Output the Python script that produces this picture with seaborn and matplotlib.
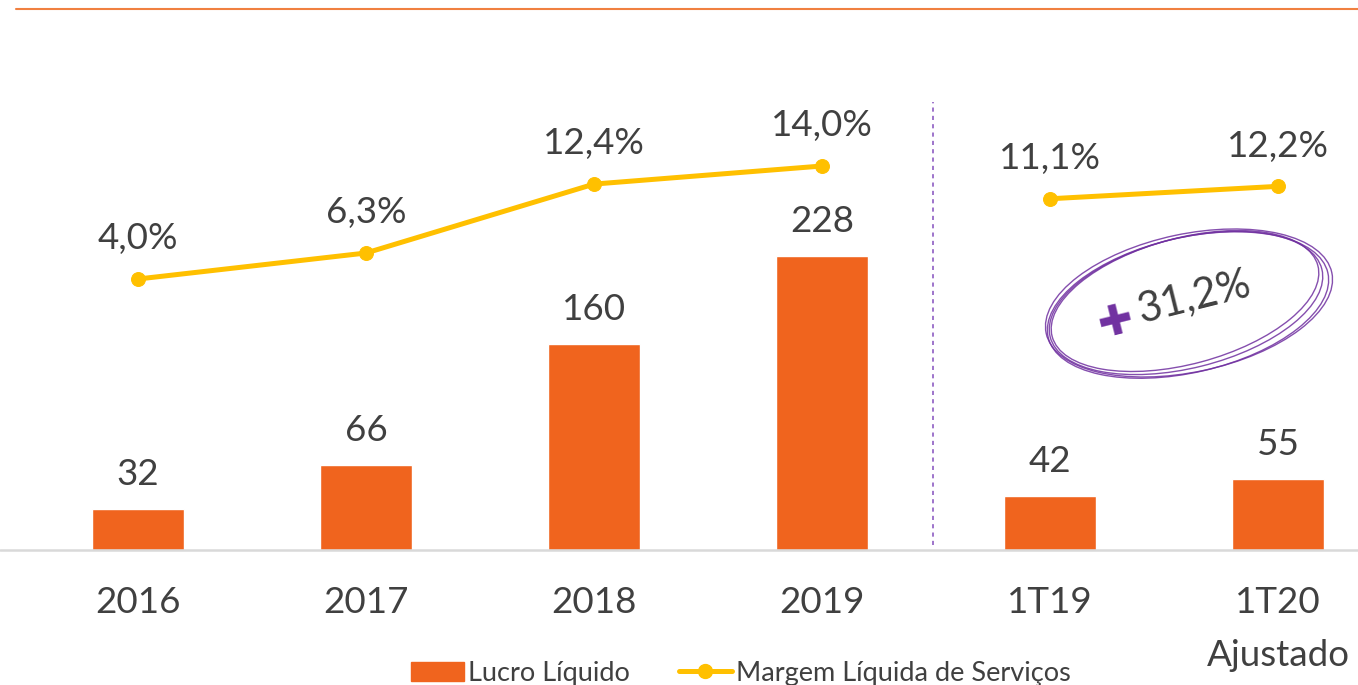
import numpy as np
import pandas as pd
import seaborn as sns
import matplotlib.pyplot as plt
from matplotlib.patches import Ellipse
from matplotlib.lines import Line2D
from matplotlib.patches import Patch

# dados
periodos = ["2016", "2017", "2018", "2019", "1T19", "1T20"]
rotulos_x = ["2016", "2017", "2018", "2019", "1T19", "1T20\nAjustado"]
lucro = [32, 66, 160, 228, 42, 55]
margem = [4.0, 6.3, 12.4, 14.0, 11.1, 12.2]
grupo = ["anual", "anual", "anual", "anual", "trim", "trim"]
destaque = "31,2%"

LARANJA = "#F0641E"
AMARELO = "#FFC000"
ROXO = "#7030A0"
CINZA_TXT = "#404040"

df = pd.DataFrame({"periodo": periodos, "lucro": lucro, "margem": margem, "grupo": grupo})
df["pos"] = np.arange(len(df))

sns.set_theme(style="white")
plt.rcParams["font.family"] = ["Lato", "DejaVu Sans"]

fig = plt.figure(figsize=(13.58, 6.85), dpi=100)
ax = fig.add_axes([0, 135 / 685, 1, 550 / 685])

sns.barplot(data=df, x="periodo", y="lucro", color=LARANJA, width=0.40,
            saturation=1, ax=ax)
ax.set_xlim(-138 / 228, (1358 - 138) / 228)
ax.set_ylim(0, 550 / 1.29)

for i, v in enumerate(lucro):
    ax.annotate(str(v), (i, v), xytext=(0, 13), textcoords="offset points",
                ha="center", va="bottom", fontsize=26.5, color=CINZA_TXT)

ax2 = ax.twinx()
sns.lineplot(data=df, x="pos", y="margem", units="grupo", estimator=None,
             color=AMARELO, lw=3.6, marker="o", markersize=10,
             markeredgecolor=AMARELO, ax=ax2)
ax2.set_ylim((324.2 - 550) / 11.3, 324.2 / 11.3)
ax2.set_xlim(ax.get_xlim())
for i, v in enumerate(margem):
    ax2.annotate(f"{v:.1f}%".replace(".", ","), (i, v), xytext=(0, 17),
                 textcoords="offset points", ha="center", va="bottom",
                 fontsize=26.5, color=CINZA_TXT)

for a in (ax, ax2):
    a.set_ylabel("")
    a.set_yticks([])
    for s in a.spines.values():
        s.set_visible(False)
ax2.set_xlabel("")
ax.set_xlabel("")
ax.axhline(0, color="#D9D9D9", lw=1.8, clip_on=False)
ax.set_xticks(range(len(rotulos_x)))
ax.set_xticklabels(rotulos_x, fontsize=26.5, color=CINZA_TXT, linespacing=1.75)
ax.tick_params(axis="x", length=0, pad=26)

# divisor tracejado entre anos e trimestres
ax.plot([(933 - 138) / 228] * 2, [5 / 1.29, 448 / 1.29], ls=(0, (2.5, 2.5)),
        color="#8E5CC2", lw=1.2)

# linha laranja no topo
fig.add_artist(Line2D([16 / 1358, 1], [1 - 9 / 685] * 2, color="#F08040", lw=1.5))

# anotação circulada
tr = fig.dpi_scale_trans
for dw, dh, da, dx, dy in [(0, 0, 14, 0, 0), (0.07, 0.05, 13, 0.02, -0.02),
                           (-0.05, -0.04, 15, -0.01, 0.02), (0.12, 0.08, 12, 0.03, 0.0)]:
    fig.add_artist(Ellipse((11.86 + dx, 3.82 + dy), 2.8 + dw, 1.3 + dh, angle=da,
                           fill=False, ec=ROXO, lw=1.0, alpha=0.85, transform=tr))
fig.text(1194 / 1358, 1 - 297 / 685, destaque, fontsize=30, color=CINZA_TXT,
         rotation=14, ha="center", va="center")
fig.text(1116 / 1358, 1 - 322 / 685, "\u271a", fontsize=30, color=ROXO,
         family="DejaVu Sans", ha="center", va="center", rotation=14)

# legenda
handles = [Patch(color=LARANJA, label="Lucro Líquido"),
           Line2D([0], [0], color=AMARELO, lw=3.6, marker="o", markersize=10,
                  label="Margem Líquida de Serviços")]
fig.legend(handles=handles, loc="center", bbox_to_anchor=(741 / 1358, 1 - 673 / 685),
           ncol=2, frameon=False, fontsize=19.5, labelcolor=CINZA_TXT,
           handlelength=1.95, handletextpad=0.15, columnspacing=1.8)

fig.savefig("out.png", dpi=100)
